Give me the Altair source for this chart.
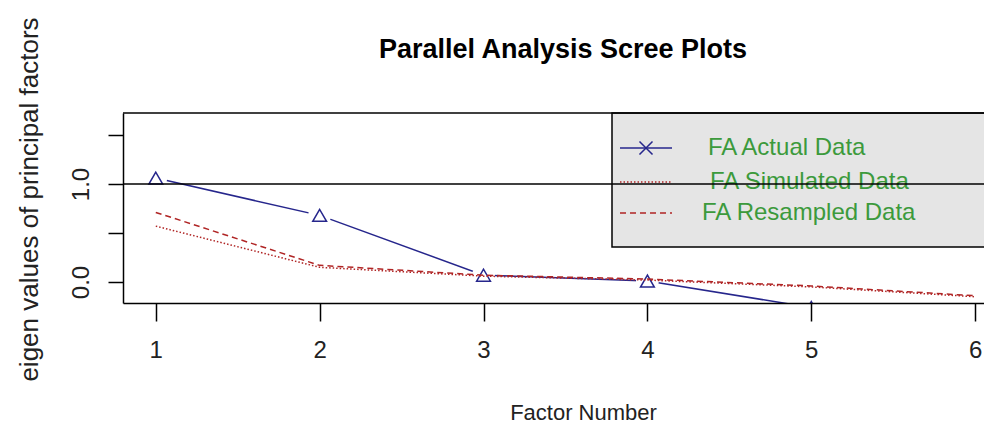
import altair as alt
import pandas as pd

# ---- data ----
factors = [1, 2, 3, 4, 5, 6]
actual = [1.06, 0.68, 0.07, 0.01, -0.26, -0.33]
simulated = [0.57, 0.15, 0.06, 0.02, -0.05, -0.15]
resampled = [0.71, 0.17, 0.07, 0.03, -0.04, -0.14]
x_ticks = [1, 2, 3, 4, 5, 6]
y_ticks = [0.0, 0.5, 1.0, 1.5]
ref_value = [1.0]
legend_labels = ["FA  Actual Data", "FA  Simulated Data", "FA  Resampled Data"]
title_text = "Parallel Analysis Scree Plots"
x_title = "Factor Number"
y_title = "eigen values of principal factors"

# ---- layout / style ----
W, H = 861, 190
XDOM = [0.8, 6.054]
YDOM = [-0.214, 1.724]
FONT = "Liberation Sans, Arial, sans-serif"
BLUE = "#26268c"
RED = "#b02525"
GREEN = "#3c9a3c"
GREY_BOX = "#e5e5e5"

df = pd.DataFrame({"factor": factors, "actual": actual,
                   "simulated": simulated, "resampled": resampled})
one = pd.DataFrame({"a": [0]})
ref_df = pd.DataFrame({"y": ref_value})

xs = alt.Scale(domain=XDOM, nice=False, zero=False)
ys = alt.Scale(domain=YDOM, nice=False, zero=False)

x_axis = alt.Axis(values=x_ticks, format="d", title=x_title, grid=False, tickSize=18,
                  tickColor="black", domainColor="black", tickWidth=1.5, domainWidth=1.5,
                  labelFont=FONT, labelFontSize=24, labelColor="#222", labelPadding=17,
                  titleFont=FONT, titleFontSize=22, titleFontWeight="normal", titleColor="#222",
                  titleX=460, titleY=116, titleBaseline="alphabetic", titleAlign="center",
                  zindex=1)
y_axis = alt.Axis(values=y_ticks, title=y_title, grid=False, tickSize=15,
                  tickColor="black", domainColor="black", tickWidth=1.5, domainWidth=1.5,
                  labelExpr="(datum.value == 0 || datum.value == 1) ? format(datum.value, '.1f') : ''",
                  labelAngle=-90, labelAlign="center", labelBaseline="alphabetic",
                  labelFont=FONT, labelFontSize=24, labelColor="#222", labelPadding=20,
                  titleFont=FONT, titleFontSize=26, titleFontWeight="normal", titleColor="#222",
                  titleAngle=-90, titleX=-94, titleY=86, titleBaseline="middle", titleAlign="center",
                  zindex=1)

base = alt.Chart(df)
X = alt.X("factor:Q", scale=xs, axis=x_axis)

actual_line = base.mark_line(color=BLUE, strokeWidth=1.5, clip=True).encode(
    x=X, y=alt.Y("actual:Q", scale=ys, axis=y_axis))
gaps = base.mark_point(filled=True, color="white", opacity=1, size=520, strokeWidth=0, clip=True).encode(
    x=alt.X("factor:Q", scale=xs), y=alt.Y("actual:Q", scale=ys))
tris = base.mark_point(shape="triangle-up", filled=False, color=BLUE, size=190,
                       strokeWidth=1.5, opacity=1, clip=True).encode(
    x=alt.X("factor:Q", scale=xs), y=alt.Y("actual:Q", scale=ys))
sim_line = base.mark_line(color=RED, strokeWidth=1.5, strokeDash=[1.5, 2], clip=True).encode(
    x=alt.X("factor:Q", scale=xs), y=alt.Y("simulated:Q", scale=ys))
res_line = base.mark_line(color=RED, strokeWidth=1.5, strokeDash=[6, 4], clip=True).encode(
    x=alt.X("factor:Q", scale=xs), y=alt.Y("resampled:Q", scale=ys))

top_border = alt.Chart(one).mark_rule(color="black", strokeWidth=1.5).encode(
    x=alt.value(0), x2=alt.value(W + 30), y=alt.value(0))

legend_box = alt.Chart(one).mark_rect(fill=GREY_BOX, stroke="black", strokeWidth=1.5).encode(
    x=alt.value(489), x2=alt.value(W + 30), y=alt.value(0), y2=alt.value(134))
leg_y = [35, 69, 100]
leg_tx = [585, 587, 579]
leg_a = alt.Chart(one).mark_rule(color=BLUE, strokeWidth=1.5).encode(
    x=alt.value(497), x2=alt.value(549), y=alt.value(leg_y[0]))
leg_x = alt.Chart(one).mark_point(shape="M-1,-1L1,1M-1,1L1,-1", filled=False, color=BLUE,
                                   size=170, strokeWidth=1.5, opacity=1).encode(
    x=alt.value(523), y=alt.value(leg_y[0]))
leg_s = alt.Chart(one).mark_rule(color=RED, strokeWidth=1.5, strokeDash=[1.5, 2]).encode(
    x=alt.value(497), x2=alt.value(549), y=alt.value(leg_y[1]))
leg_r = alt.Chart(one).mark_rule(color=RED, strokeWidth=1.5, strokeDash=[6, 4]).encode(
    x=alt.value(497), x2=alt.value(549), y=alt.value(leg_y[2]))
leg_texts = [
    alt.Chart(one).mark_text(text=lab, align="left", baseline="middle", font=FONT,
                             fontSize=24, color=GREEN).encode(
        x=alt.value(tx), y=alt.value(ty))
    for lab, tx, ty in zip(legend_labels, leg_tx, leg_y)
]

ref_line = alt.Chart(ref_df).mark_rule(color="black", strokeWidth=1.5).encode(
    y=alt.Y("y:Q", scale=ys))

title = alt.Chart(one).mark_text(text=title_text, align="center", baseline="alphabetic", font=FONT,
                                 fontSize=27, fontWeight="bold", color="black").encode(
    x=alt.value(440), y=alt.value(-55))

chart = alt.layer(
    actual_line, gaps, tris, sim_line, res_line,
    legend_box, leg_a, leg_x, leg_s, leg_r, *leg_texts,
    ref_line, top_border, title
).properties(
    width=W, height=H,
    padding={"left": 115, "top": 105, "right": 0, "bottom": 121},
    autosize=alt.AutoSizeParams(type="none"),
).configure_view(stroke=None)

chart.save("out.html", embed_options={"renderer": "svg", "actions": False})
